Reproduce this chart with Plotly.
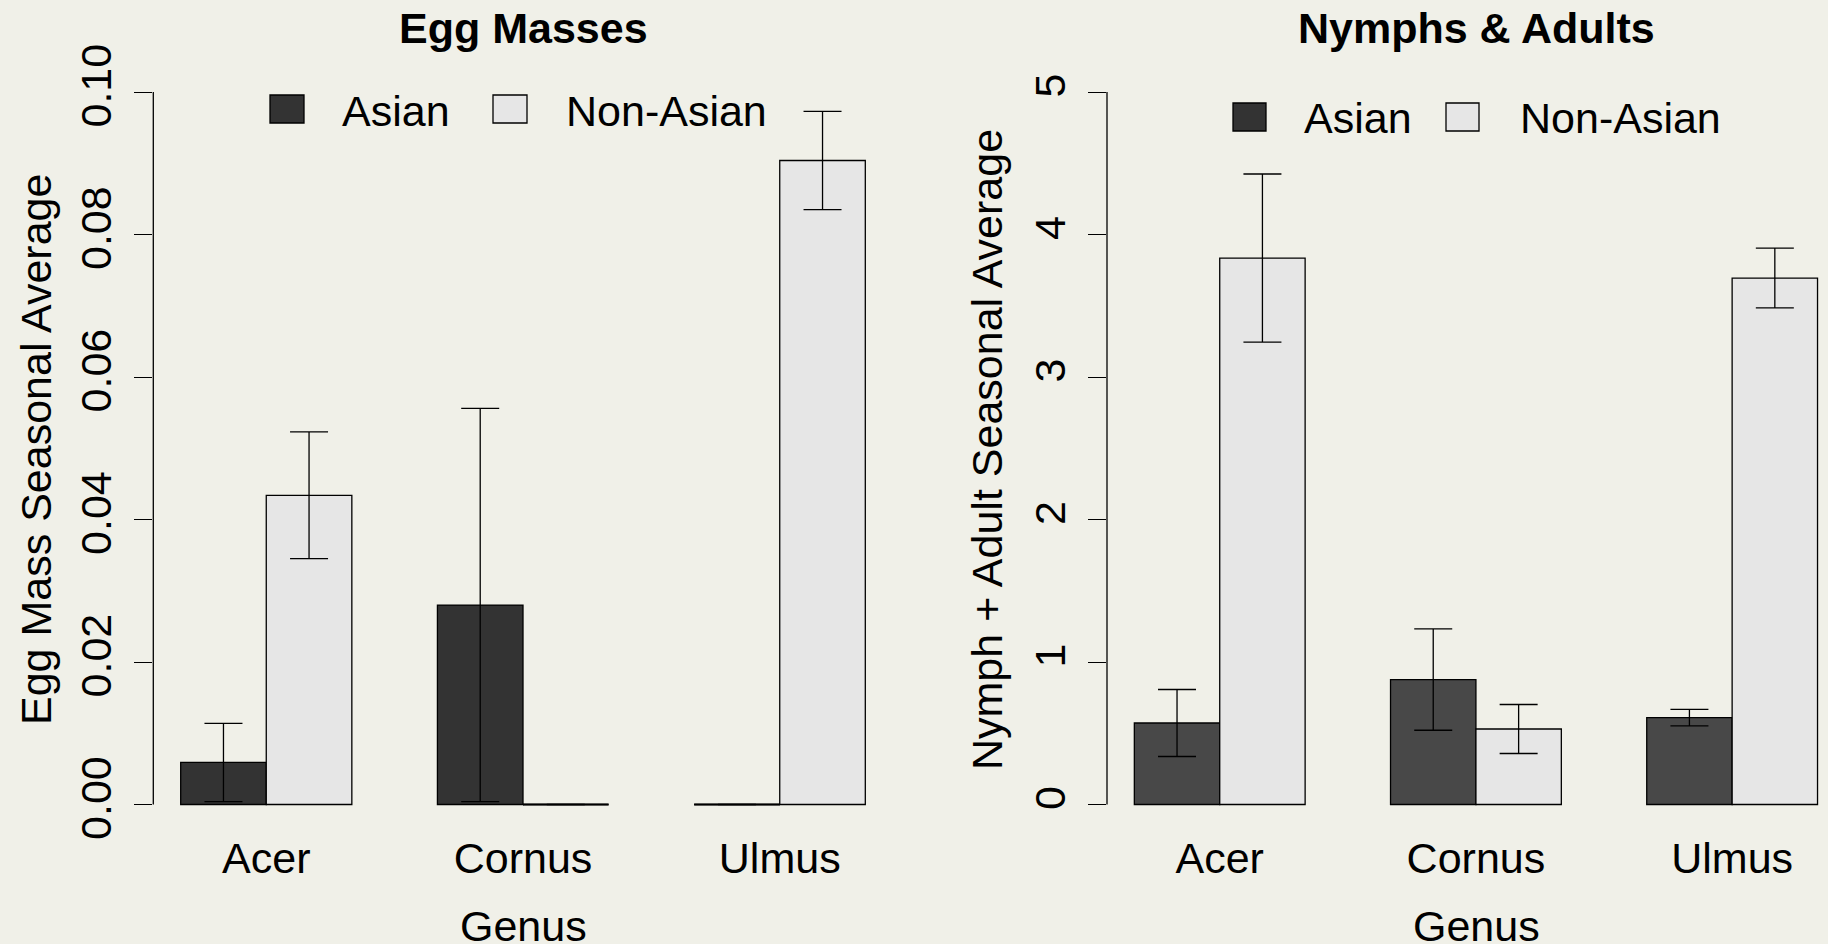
import plotly.graph_objects as go

# ---- data ----
genera = ["Acer", "Cornus", "Ulmus"]
series = ["Asian", "Non-Asian"]

egg_asian = [0.0059, 0.0280, 0.0]
egg_asian_se = [0.0055, 0.0276, 0.0]
egg_nonasian = [0.0434, 0.0, 0.0904]
egg_nonasian_se = [0.0089, 0.0, 0.0069]

nym_asian = [0.572, 0.877, 0.610]
nym_asian_se = [0.235, 0.356, 0.058]
nym_nonasian = [3.835, 0.530, 3.695]
nym_nonasian_se = [0.590, 0.172, 0.210]

egg_ticks = [0.0, 0.02, 0.04, 0.06, 0.08, 0.10]
nym_ticks = [0, 1, 2, 3, 4, 5]

# ---- style ----
W, H = 1828, 944
BG = "#F0F0E8"
FONT = "Liberation Sans, Arial, sans-serif"
FS = 43
egg_cols = ["#333333", "#E6E6E6"]
nym_cols = ["#484848", "#E6E6E6"]
legend_cols = ["#333333", "#E6E6E6"]

def positions(j):
    # R barplot(beside=TRUE) layout: space=c(0,1), width=1
    return [3 * g + 1.5 + j for g in range(len(genera))]

group_centers = [3 * g + 2 for g in range(len(genera))]

fig = go.Figure()

def add_panel(vals, ses, cols, xa, ya):
    for j in range(2):
        fig.add_trace(go.Bar(
            x=positions(j), y=vals[j], width=1.0,
            marker=dict(color=cols[j], line=dict(color="black", width=1.3)),
            error_y=dict(type="data", array=ses[j], arrayminus=ses[j], symmetric=False,
                         color="black", thickness=1.3, width=19),
            xaxis=xa, yaxis=ya, showlegend=False, name=series[j]))
        # zero-height bars drawn as their outline (a flat line)
        for p, v in zip(positions(j), vals[j]):
            if v == 0:
                fig.add_trace(go.Scatter(x=[p - 0.5, p + 0.5], y=[0, 0], mode="lines",
                                         line=dict(color="black", width=2),
                                         xaxis=xa, yaxis=ya, showlegend=False,
                                         hoverinfo="skip"))

add_panel([egg_asian, egg_nonasian], [egg_asian_se, egg_nonasian_se], egg_cols, "x", "y")
add_panel([nym_asian, nym_nonasian], [nym_asian_se, nym_nonasian_se], nym_cols, "x2", "y2")

ydom = [1 - 833.0 / H, 1 - 63.6 / H]
xd1 = [153.3 / W, 892.7 / W]
xd2 = [1107.0 / W, 1.0]
unit = 85.4
r2 = [0.68, 0.68 + (W - 1107.0) / unit]

common_x = dict(showgrid=False, zeroline=False, showline=False, ticks="",
                tickmode="array", tickvals=group_centers, ticktext=genera,
                tickfont=dict(size=FS, color="black", family=FONT), ticklabelstandoff=-4,
                automargin=False)
common_y = dict(showgrid=False, zeroline=False, showline=False, ticks="outside",
                ticklen=18, tickwidth=1.3, tickcolor="black", tickangle=-90,
                tickfont=dict(size=FS, color="black", family=FONT), tickmode="array",
                ticklabelstandoff=6, automargin=False)

fig.update_layout(
    width=W, height=H, paper_bgcolor=BG, plot_bgcolor=BG,
    margin=dict(l=0, r=0, t=0, b=0, pad=0, autoexpand=False),
    barmode="overlay", showlegend=False,
    font=dict(family=FONT, size=FS, color="black"),
    xaxis=dict(domain=xd1, range=[0.68, 9.32], anchor="y", **common_x),
    yaxis=dict(domain=ydom, range=[-0.004, 0.104], anchor="x", tickvals=egg_ticks,
               ticktext=[f"{t:.2f}" for t in egg_ticks], **common_y),
    xaxis2=dict(domain=xd2, range=r2, anchor="y2", **common_x),
    yaxis2=dict(domain=ydom, range=[-0.2, 5.2], anchor="x2", tickvals=nym_ticks,
                ticktext=[str(t) for t in nym_ticks], **common_y),
)

# y axis lines spanning only the tick range (R style)
fig.add_shape(type="line", xref="x domain", yref="y", x0=0, x1=0,
              y0=egg_ticks[0], y1=egg_ticks[-1], line=dict(color="black", width=1.3))
fig.add_shape(type="line", xref="x2 domain", yref="y2", x0=0, x1=0,
              y0=nym_ticks[0], y1=nym_ticks[-1], line=dict(color="black", width=1.3))

def py(px):
    return 1 - px / H

def px_(x):
    return x / W

anns = []
# titles
anns.append(dict(text="<b>Egg Masses</b>", x=px_(523), y=py(28)))
anns.append(dict(text="<b>Nymphs & Adults</b>", x=px_(1476), y=py(28)))
# x titles
anns.append(dict(text="Genus", x=px_(523), y=py(926)))
anns.append(dict(text="Genus", x=px_(1476), y=py(926)))
# y titles
anns.append(dict(text="Egg Mass Seasonal Average", x=px_(36), y=py(450), textangle=-90))
anns.append(dict(text="Nymph + Adult Seasonal Average", x=px_(987), y=py(449), textangle=-90))

# legends
legend_specs = [
    # (box_x0, box_x1, box_y0, box_y1, text_x, text_y)
    [(270, 304, 95, 123, 340, 111), (493, 527, 95, 123, 564, 111)],
    [(1233, 1266, 103, 131, 1302, 118), (1446, 1479, 103, 131, 1518, 118)],
]
for panel in legend_specs:
    for j, (bx0, bx1, by0, by1, tx, ty) in enumerate(panel):
        fig.add_shape(type="rect", xref="paper", yref="paper",
                      x0=px_(bx0), x1=px_(bx1), y0=py(by1), y1=py(by0),
                      fillcolor=legend_cols[j], line=dict(color="black", width=1.3))
        anns.append(dict(text=series[j], x=px_(tx), y=py(ty), xanchor="left"))

for a in anns:
    base = dict(xref="paper", yref="paper", showarrow=False, xanchor="center",
                yanchor="middle", font=dict(size=FS, color="black", family=FONT))
    base.update(a)
    fig.add_annotation(**base)

post = ("document.body.style.margin='0';document.body.style.padding='0';"
        "document.body.style.background='" + BG + "';"
        "document.documentElement.style.overflow='hidden';")
fig.write_html("out.html", post_script=post, config={"displayModeBar": False})
